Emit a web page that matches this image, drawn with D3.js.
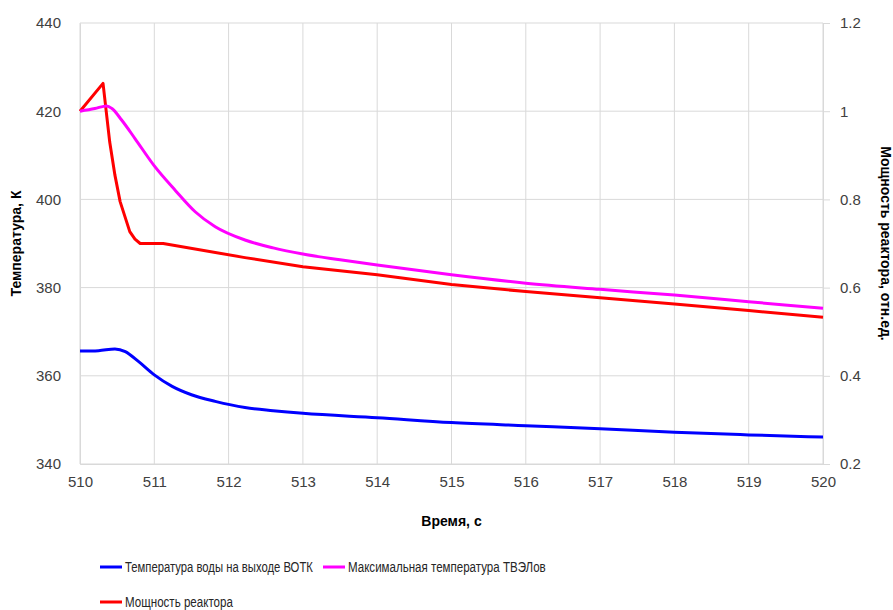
<!DOCTYPE html>
<html>
<head>
<meta charset="utf-8">
<script src="https://cdn.jsdelivr.net/npm/d3@7"></script>
<style>
  body { margin: 0; background: #fff; }
  svg { font-family: "Liberation Sans", sans-serif; }
  .tick-label { font-size: 15px; fill: #404040; }
  .axis-title { font-size: 14px; font-weight: bold; fill: #000; }
  .legend-text { font-size: 15px; fill: #262626; }
</style>
</head>
<body>
<svg id="chart" width="893" height="610"></svg>
<script>
/* ---------- data ---------- */
const xTicks = [510, 511, 512, 513, 514, 515, 516, 517, 518, 519, 520];
const leftTicks = [340, 360, 380, 400, 420, 440];
const rightTicks = [0.2, 0.4, 0.6, 0.8, 1, 1.2];

// water temperature at VOTK outlet, K
const waterTime = [510, 510.25, 510.47, 510.61, 510.79, 511.0, 511.24, 511.5, 511.82, 512.22, 512.6, 513, 514, 515, 516, 517, 518, 519, 520];
const waterTemp = [365.6, 365.7, 366.1, 365.5, 363.2, 360.2, 357.6, 355.7, 354.2, 352.8, 352.1, 351.5, 350.5, 349.4, 348.7, 348.0, 347.2, 346.6, 346.1];

// maximum fuel element temperature, K
const fuelTime = [510, 510.2, 510.36, 510.43, 510.56, 510.74, 511.0, 511.28, 511.55, 511.82, 512.22, 512.6, 513, 513.5, 514, 515, 516, 517, 518, 519, 520];
const fuelTemp = [420.0, 420.6, 421.2, 420.6, 418.0, 413.8, 407.6, 402.1, 397.2, 393.8, 390.8, 389.0, 387.6, 386.3, 385.1, 382.9, 381.0, 379.6, 378.3, 376.8, 375.3];

// reactor power, relative units (right axis)
const powerTime = [510, 510.31, 510.40, 510.47, 510.54, 510.67, 510.74, 510.81, 511.12, 512.22, 513, 514, 515, 516, 517, 518, 519, 520];
const powerVal = [1.0, 1.063, 0.93, 0.855, 0.795, 0.727, 0.71, 0.70, 0.70, 0.668, 0.6475, 0.629, 0.607, 0.591, 0.577, 0.563, 0.548, 0.533];

const seriesNames = ["Температура воды на выходе ВОТК", "Максимальная температура ТВЭЛов", "Мощность реактора"];
const seriesColors = ["#0000ff", "#ff00ff", "#ff0000"];

/* ---------- layout ---------- */
const svg = d3.select("#chart");
const plot = { left: 80, right: 823, top: 23, bottom: 464 };

const x = d3.scaleLinear().domain([510, 520]).range([plot.left, plot.right]);
const yL = d3.scaleLinear().domain([340, 440]).range([plot.bottom, plot.top]);
const yR = d3.scaleLinear().domain([0.2, 1.2]).range([plot.bottom, plot.top]);

/* ---------- gridlines ---------- */
const grid = svg.append("g").attr("stroke", "#d9d9d9").attr("stroke-width", 1);
grid.selectAll(".vg").data(xTicks).join("line")
  .attr("x1", d => x(d)).attr("x2", d => x(d))
  .attr("y1", plot.top).attr("y2", plot.bottom);
grid.selectAll(".hg").data(leftTicks).join("line")
  .attr("x1", plot.left).attr("x2", plot.right)
  .attr("y1", d => yL(d)).attr("y2", d => yL(d));

/* ---------- axes ---------- */
const xAxis = svg.append("g").attr("transform", `translate(0,${plot.bottom})`)
  .call(d3.axisBottom(x).tickValues(xTicks).tickSize(0).tickPadding(12).tickFormat(d3.format("d")));
const leftAxis = svg.append("g").attr("transform", `translate(${plot.left},0)`)
  .call(d3.axisLeft(yL).tickValues(leftTicks).tickSize(0).tickPadding(19).tickFormat(d3.format("d")));
const rightAxis = svg.append("g").attr("transform", `translate(${plot.right},0)`)
  .call(d3.axisRight(yR).tickValues(rightTicks).tickSize(7).tickPadding(10).tickFormat(d => d === 1 ? "1" : d3.format(".1f")(d)));

[xAxis, leftAxis, rightAxis].forEach(a => {
  a.select(".domain").attr("stroke", "#d9d9d9");
  a.selectAll(".tick line").attr("stroke", "#d9d9d9");
  a.selectAll(".tick text").attr("class", "tick-label").attr("font-family", null).attr("font-size", null).attr("fill", null);
  a.attr("font-family", null).attr("font-size", null);
});

/* ---------- axis titles ---------- */
svg.append("text").attr("class", "axis-title")
  .attr("x", x(515)).attr("y", 526).attr("text-anchor", "middle")
  .text("Время, с");
svg.append("text").attr("class", "axis-title")
  .attr("transform", `translate(21,${(plot.top + plot.bottom) / 2}) rotate(-90)`)
  .attr("text-anchor", "middle").text("Температура, К");
svg.append("text").attr("class", "axis-title")
  .attr("transform", `translate(881,${(plot.top + plot.bottom) / 2}) rotate(90)`)
  .attr("text-anchor", "middle").text("Мощность реактора, отн.ед.");

/* ---------- lines ---------- */
const smoothL = d3.line().x(d => x(d[0])).y(d => yL(d[1])).curve(d3.curveMonotoneX);
const powerLine = d3.line().x(d => x(d[0])).y(d => yR(d[1]));

const lines = svg.append("g").attr("fill", "none").attr("stroke-width", 3).attr("stroke-linejoin", "round");
lines.append("path").attr("stroke", seriesColors[2])
  .attr("d", powerLine(d3.zip(powerTime, powerVal)));
lines.append("path").attr("stroke", seriesColors[1])
  .attr("d", smoothL(d3.zip(fuelTime, fuelTemp)));
lines.append("path").attr("stroke", seriesColors[0])
  .attr("d", smoothL(d3.zip(waterTime, waterTemp)));

/* ---------- legend ---------- */
// Calibri-like narrow text: squeeze each label horizontally to the reference width
const legendPos = [[100, 567], [323, 567], [100, 602]];
const legendWidth = [188, 198, 108];
const legend = svg.append("g");
seriesNames.forEach((name, i) => {
  const [lx, ly] = legendPos[i];
  legend.append("line").attr("x1", lx).attr("x2", lx + 22).attr("y1", ly).attr("y2", ly)
    .attr("stroke", seriesColors[i]).attr("stroke-width", 3);
  const t = legend.append("text").attr("class", "legend-text").text(name);
  const k = legendWidth[i] / t.node().getComputedTextLength();
  t.attr("transform", `translate(${lx + 25},${ly + 5}) scale(${k},1)`);
});
</script>
</body>
</html>
